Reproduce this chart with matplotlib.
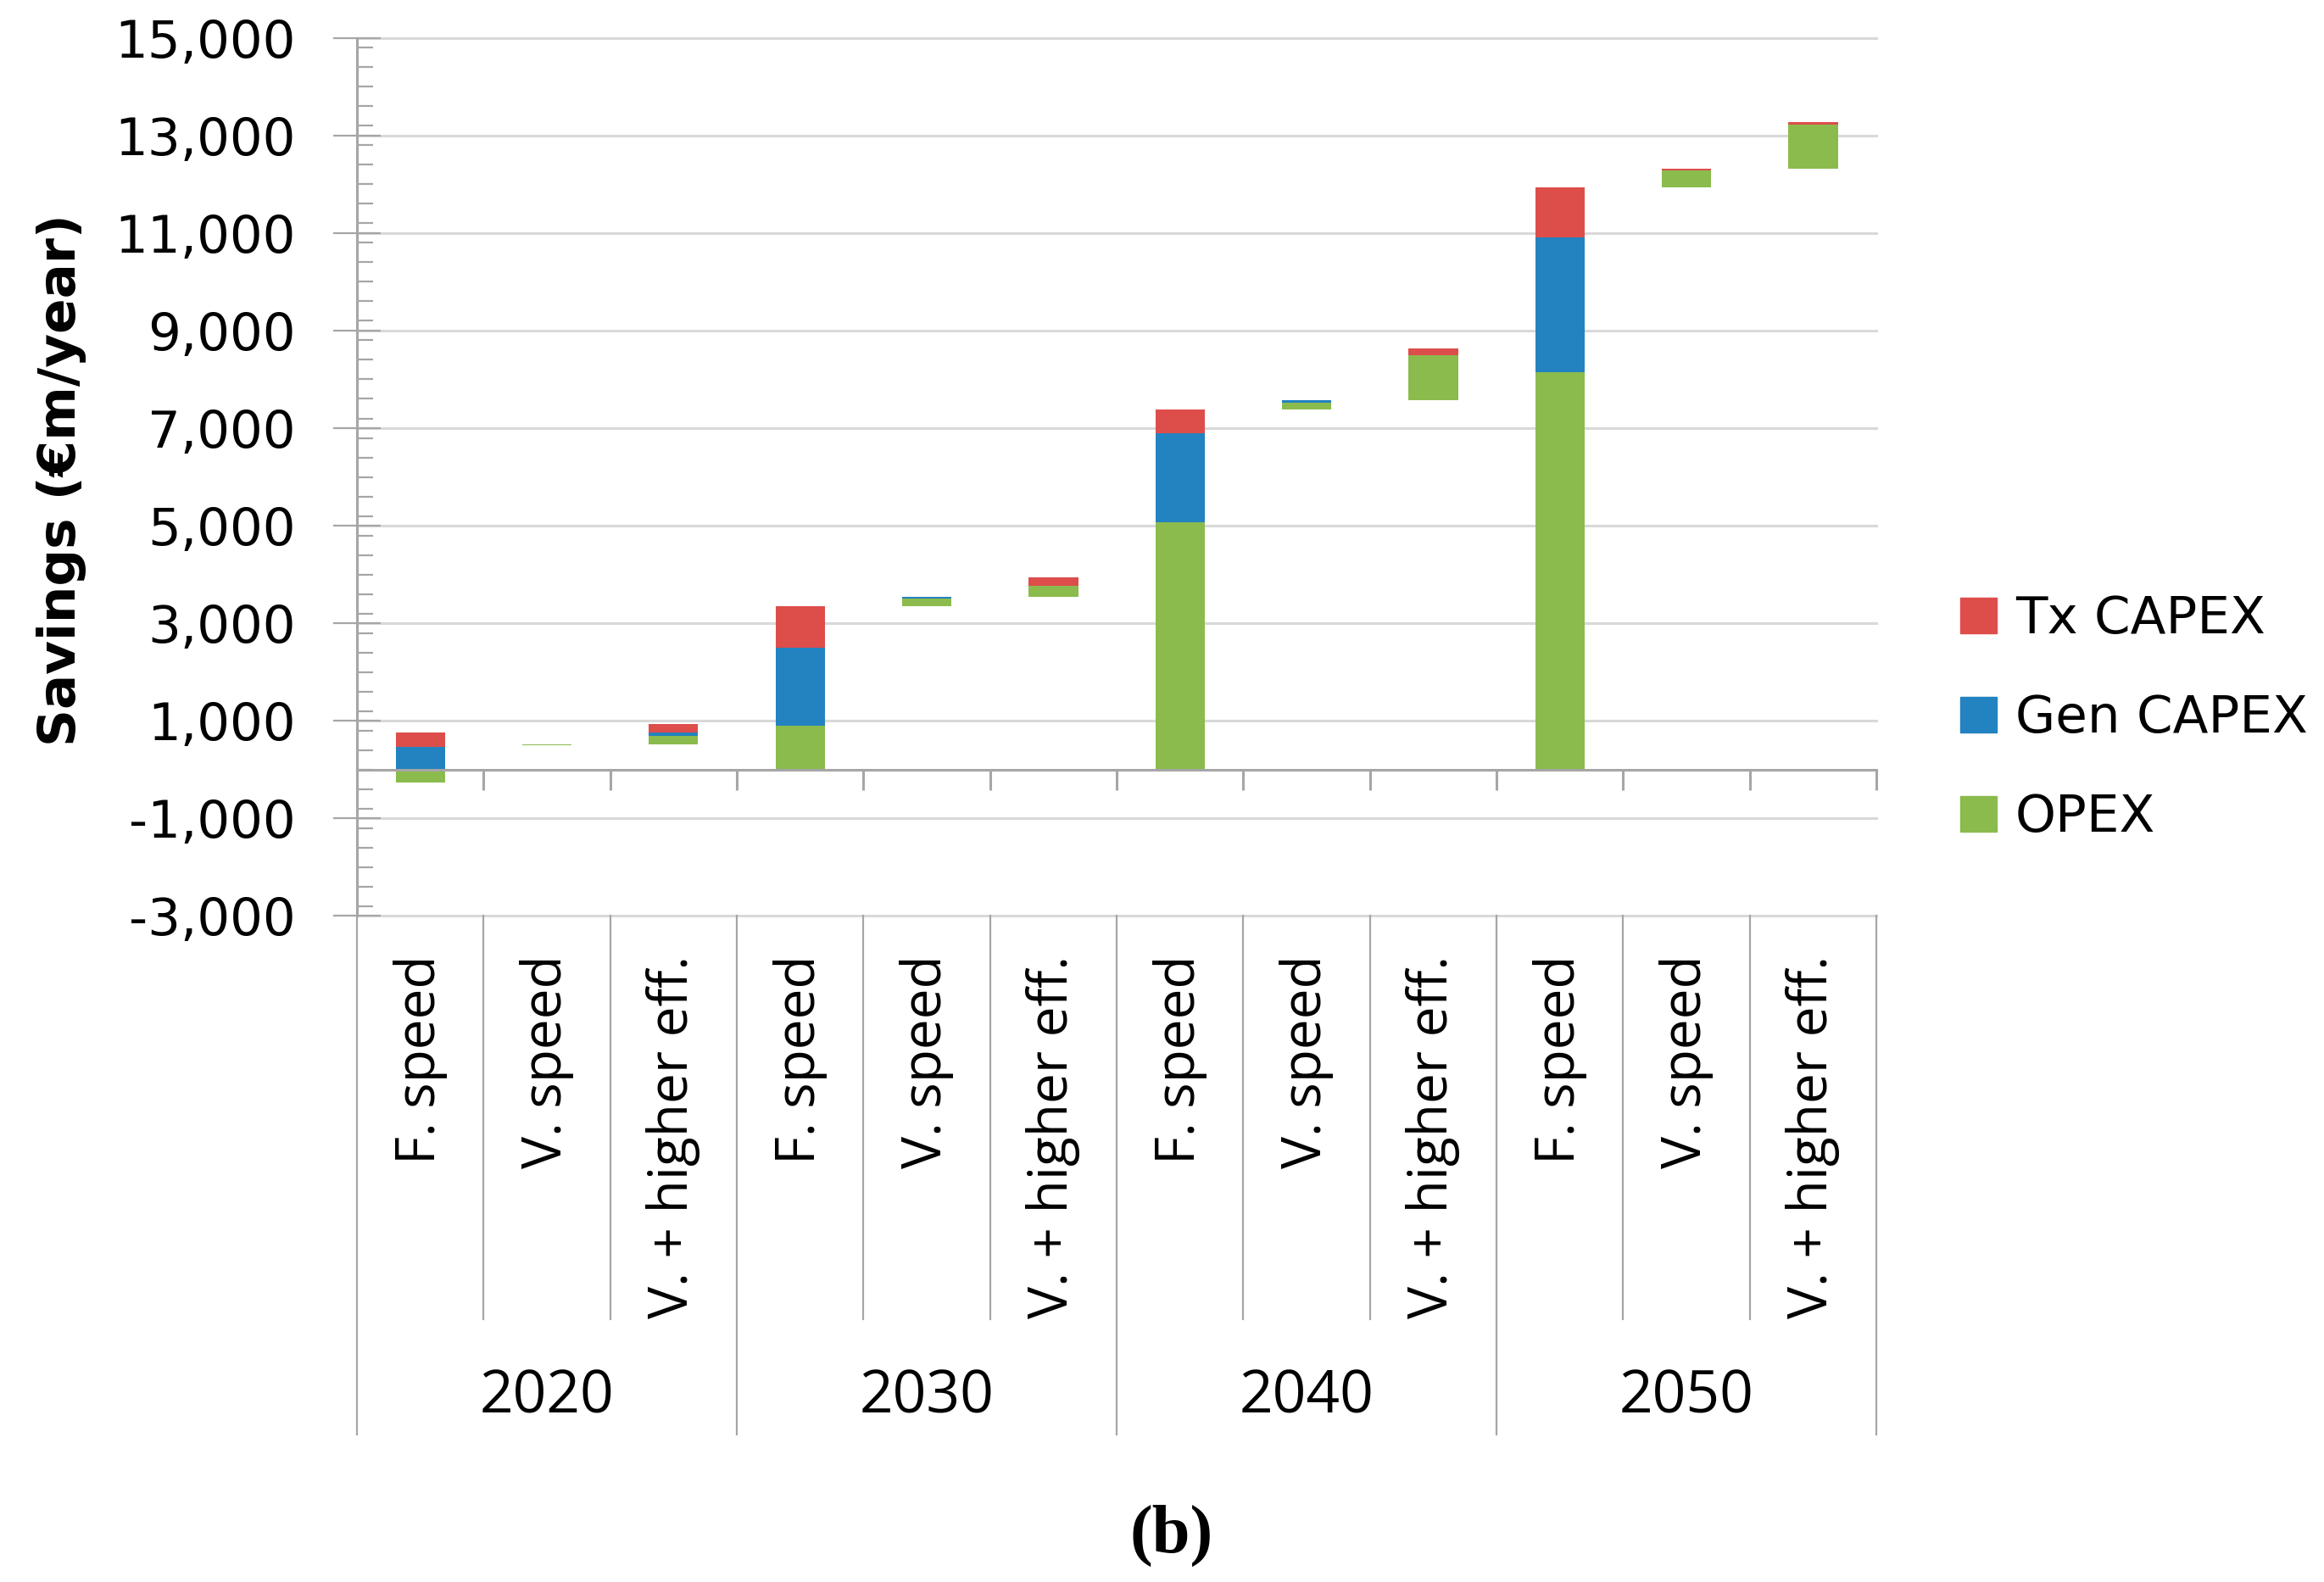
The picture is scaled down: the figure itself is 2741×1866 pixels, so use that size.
import numpy as np
import matplotlib.pyplot as plt
from matplotlib.patches import Patch
from matplotlib.ticker import MultipleLocator

# Data, waterfall within each year
years = ['2020', '2030', '2040', '2050']
cases = ['F. speed', 'V. speed', 'V. + higher eff.']
opex = [-270, 30, 160, 900, 150, 220, 5070, 150, 920, 8150, 340, 900]
gen_capex = [470, 0, 75, 1600, 45, 0, 1830, 45, 0, 2760, 0, 0]
tx_capex = [290, 0, 170, 850, 0, 175, 480, 0, 135, 1030, 45, 60]
yticks = list(range(-3000, 15001, 2000))

c_opex = '#8BBB4D'
c_gen = '#2382C0'
c_tx = '#DD4E4B'
grid_c = '#D9D9D9'
axis_c = '#A6A6A6'

fig = plt.figure(figsize=(27.41, 18.66), dpi=100)
ax = fig.add_axes([0.1536, 0.4212, 0.6538, 0.5547])

n = len(opex)
x = np.arange(n)
w = 0.39

# invisible base: each case sits on top of the previous case's total
for i in range(n):
    if i % 3 == 0:
        base = 0
    else:
        base = base + opex[i - 1] + gen_capex[i - 1] + tx_capex[i - 1]
    pos = base
    neg = base
    for vals, col in [(opex, c_opex), (gen_capex, c_gen), (tx_capex, c_tx)]:
        v = vals[i]
        if v == 0:
            continue
        if v > 0:
            ax.bar(x[i], v, w, bottom=pos, color=col, zorder=3)
            pos += v
        else:
            ax.bar(x[i], v, w, bottom=neg, color=col, zorder=3)
            neg += v

ax.set_xlim(-0.5, n - 0.5)
ax.set_ylim(-3000, 15000)

# gridlines
for yv in yticks:
    ax.axhline(yv, color=grid_c, lw=2.2, zorder=1, clip_on=False)

# spines
for s in ['top', 'right']:
    ax.spines[s].set_visible(False)
ax.spines['left'].set_color(axis_c)
ax.spines['left'].set_linewidth(2.2)
ax.spines['bottom'].set_position(('data', 0))
ax.spines['bottom'].set_color(axis_c)
ax.spines['bottom'].set_linewidth(2.2)
ax.spines['bottom'].set_zorder(4)

ax.set_yticks(yticks)
ax.set_yticklabels([f'{v:,}' for v in yticks], fontsize=44, family='DejaVu Sans')
ax.yaxis.set_minor_locator(MultipleLocator(400))
ax.tick_params(axis='y', which='major', direction='inout', length=40, width=1.6,
               color=axis_c, pad=32)
ax.tick_params(axis='y', which='minor', direction='in', length=14, width=1.6,
               color=axis_c)

# category boundary ticks on the zero line
ax.set_xticks(np.arange(-0.5, n, 1.0))
ax.set_xticklabels([])
ax.tick_params(axis='x', direction='out', length=17, width=2.2, color=axis_c)

# multi-level category labels below the plot
tr = ax.get_xaxis_transform()
for i in range(n):
    ax.text(x[i], -0.045, cases[i % 3], transform=tr, rotation=90,
            ha='center', va='top', fontsize=46, family='Open Sans')
for g, yr in enumerate(years):
    ax.text(3 * g + 1, -0.549, yr, transform=tr, ha='center', va='center',
            fontsize=50, family='Open Sans')
for b in np.arange(-0.5, n, 1.0):
    ybot = -0.591 if (b + 0.5) % 3 == 0 else -0.46
    ax.plot([b, b], [0, ybot], transform=tr, color=axis_c, lw=1.6, clip_on=False)

fig.text(0.0263, 0.6967, 'Savings (€m/year)', rotation=90, ha='center', va='center',
         fontsize=44, fontweight='bold', family='DejaVu Sans')

handles = [Patch(color=c_tx, label='Tx CAPEX'),
           Patch(color=c_gen, label='Gen CAPEX'),
           Patch(color=c_opex, label='OPEX')]
fig.legend(handles=handles, loc='center left', bbox_to_anchor=(0.8236, 0.5456),
           frameon=False, prop={'family': 'DejaVu Sans', 'size': 44},
           handlelength=0.7, handleheight=0.7, handletextpad=0.35, labelspacing=0.95)

fig.text(0.504, 0.029, '(b)', ha='center', va='center', fontsize=58,
         fontweight='bold', family='Liberation Serif')

fig.savefig('out.png', dpi=100, facecolor='white')
